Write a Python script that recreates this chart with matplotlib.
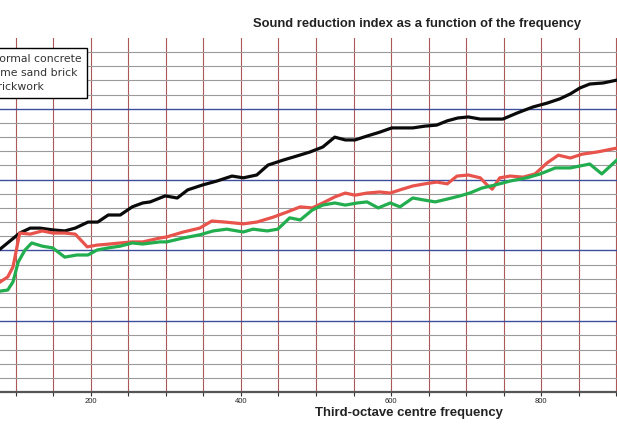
import numpy as np
import matplotlib.pyplot as plt

# ── data (x = frequency axis, y = arbitrary dB scale 0–100)
conc_x = [79, 105, 119, 132, 149, 165, 179, 196, 209, 223, 239, 255, 269, 279,
          299, 315, 329, 349, 368, 388, 403, 421, 436, 456, 475, 492, 509, 525,
          539, 552, 568, 585, 601, 629, 645, 661, 675, 689, 703, 719, 749, 768,
          789, 808, 825, 839, 852, 865, 883, 901]
conc_y = [40.4, 44.9, 46.3, 46.3, 45.8, 45.5, 46.3, 48.0, 48.0, 50.0, 50.0, 52.3,
          53.4, 53.7, 55.4, 54.8, 57.1, 58.5, 59.6, 61.0, 60.5, 61.3, 64.1, 65.5,
          66.7, 67.8, 69.2, 72.0, 71.2, 71.2, 72.3, 73.4, 74.6, 74.6, 75.1, 75.4,
          76.6, 77.4, 77.7, 77.1, 77.1, 78.8, 80.5, 81.6, 82.8, 84.2, 85.9, 87.0,
          87.3, 88.1]

lime_x = [79, 89, 96, 105, 119, 135, 149, 165, 179, 195, 208, 225, 239, 255,
          269, 292, 301, 323, 345, 361, 379, 403, 421, 443, 461, 479, 495, 509,
          525, 539, 552, 568, 585, 599, 612, 629, 645, 661, 675, 688, 703, 719,
          728, 735, 745, 759, 776, 792, 808, 823, 839, 855, 875, 901]
lime_y = [31.1, 32.5, 35.3, 44.9, 44.6, 45.5, 44.9, 44.9, 44.6, 41.0, 41.5, 41.8,
          42.1, 42.4, 42.4, 43.5, 43.8, 45.2, 46.3, 48.3, 48.0, 47.5, 48.0, 49.4,
          50.8, 52.3, 52.0, 53.4, 55.1, 56.2, 55.6, 56.2, 56.5, 56.2, 57.1, 58.2,
          58.8, 59.3, 58.8, 61.0, 61.3, 60.5, 58.5, 57.3, 60.5, 61.0, 60.7, 61.6,
          64.7, 66.9, 66.1, 67.2, 67.8, 68.9]

brick_x = [79, 89, 96, 103, 112, 121, 135, 149, 165, 181, 196, 208, 223, 239,
           255, 269, 292, 301, 323, 345, 363, 381, 403, 416, 435, 449, 465, 479,
           495, 509, 525, 539, 555, 568, 583, 599, 612, 629, 645, 659, 675, 692,
           705, 721, 739, 759, 781, 799, 819, 839, 865, 881, 901]
brick_y = [28.5, 28.8, 31.1, 36.7, 40.1, 42.1, 41.2, 40.7, 38.1, 38.7, 38.7, 40.1,
           40.7, 41.2, 42.1, 41.8, 42.4, 42.4, 43.5, 44.4, 45.5, 46.0, 45.2, 46.0,
           45.5, 46.0, 49.2, 48.6, 51.4, 52.8, 53.4, 52.8, 53.4, 53.7, 52.0, 53.4,
           52.3, 54.8, 54.2, 53.7, 54.5, 55.4, 56.2, 57.6, 58.5, 59.6, 60.5, 61.6,
           63.3, 63.3, 64.4, 61.6, 65.5]

SERIES = [("Normal concrete", conc_x, conc_y, "#0a0a0a"),
          ("Lime sand brick", lime_x, lime_y, "#e8534c"),
          ("Brickwork", brick_x, brick_y, "#22ad4e")]

plt.rcParams["font.family"] = ["Liberation Sans", "DejaVu Sans"]

fig = plt.figure(figsize=(6.17, 4.32), dpi=100)
ax = fig.add_axes([0, 40 / 432, 1, 354 / 432])
ax.set_xlim(78.7, 901.3)
ax.set_ylim(0, 100)

# ── grid: red verticals every 50, grey minor rows, blue major rows ─────────
for xv in np.arange(100, 901, 50):
    ax.axvline(xv, color="#a03a3a", lw=0.8, alpha=0.85, zorder=1)
for yv in np.arange(4, 100, 4):
    if yv % 20 == 0:
        ax.axhline(yv, color="#3b4f9e", lw=1.0, zorder=1)
    else:
        ax.axhline(yv, color="#9a9a9a", lw=0.8, zorder=1)

for label, xs, ys, c in SERIES:
    ax.plot(xs, ys, color=c, lw=2.3, zorder=3, label=label)

for s in ["left", "top", "right"]:
    ax.spines[s].set_visible(False)
ax.spines["bottom"].set_color("#555555")
ax.spines["bottom"].set_linewidth(1.6)

ax.set_yticks([])
ax.set_xticks(np.arange(100, 901, 50), minor=True)
ax.set_xticks([200, 400, 600, 800])
ax.tick_params(axis="x", which="both", length=3, color="#333333", width=0.8)
ax.tick_params(axis="x", which="major", labelsize=5.5, pad=1.5,
               labelcolor="#222222")

# legend sits partly outside the figure, as in the cropped original
leg = ax.legend(loc="upper right", bbox_to_anchor=(87 / 617, 1 - 48 / 432),
                bbox_transform=fig.transFigure, borderaxespad=0,
                prop={"family": "DejaVu Sans", "size": 7.8},
                frameon=True, fancybox=False,
                edgecolor="black", framealpha=1, labelspacing=0.39,
                borderpad=0.54, handlelength=2.5)
leg.get_frame().set_linewidth(1.0)
for t in leg.get_texts():
    t.set_color("#333333")

fig.text(417 / 617, 1 - 24 / 432,
         "Sound reduction index as a function of the frequency",
         ha="center", va="center", fontsize=9.4, fontweight="bold",
         color="#222222")
fig.text(409 / 617, 1 - 413 / 432, "Third-octave centre frequency",
         ha="center", va="center", fontsize=9.45, fontweight="bold",
         color="#222222")

fig.savefig("out.png", dpi=100)
